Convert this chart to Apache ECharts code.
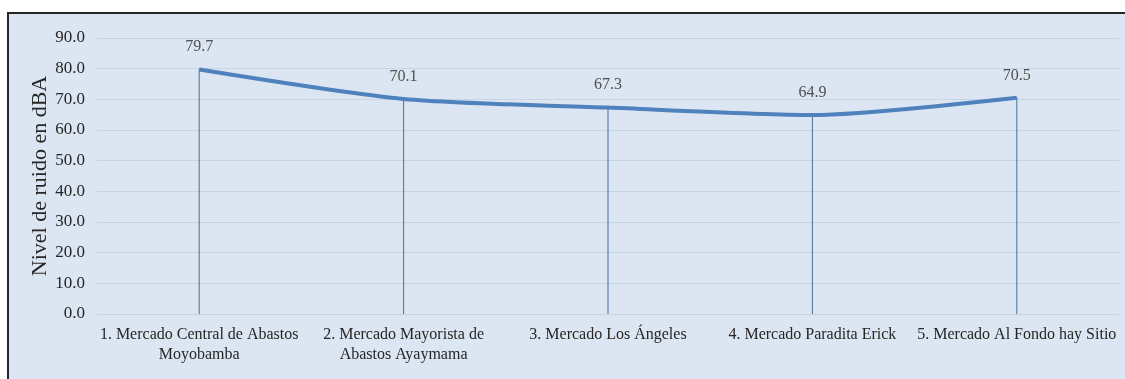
<!DOCTYPE html>
<html>
<head>
<meta charset="utf-8">
<script src="https://cdn.jsdelivr.net/npm/echarts@6/dist/echarts.min.js"></script>
<style>
	html, body { margin: 0; padding: 0; background: #fff; overflow: hidden; width: 1125px; height: 379px; }
	#frame { position: absolute; left: 7px; top: 12px; width: 1130px; height: 380px; border: 2px solid #262626; background: #dce6f2; }
	#main { width: 1116px; height: 365px; }
</style>
</head>
<body>
<div id="frame"><div id="main"></div></div>
<script>
const mercados = [
	"1. Mercado Central de Abastos\nMoyobamba",
	"2. Mercado Mayorista de\nAbastos Ayaymama",
	"3. Mercado Los Ángeles",
	"4. Mercado Paradita Erick",
	"5. Mercado Al Fondo hay Sitio"
]
const ruido = [79.7, 70.1, 67.3, 64.9, 70.5]
const ejeY = { min: 0, max: 90, interval: 10 }

const serif = "'Liberation Serif', 'Times New Roman', serif"

var myChart = echarts.init(document.getElementById('main'))
var option = {
	backgroundColor: 'transparent',
	animation: false,
	grid: {
		left: 88,
		top: 24,
		width: 1022,
		height: 276
	},
	xAxis: {
		type: 'category',
		data: mercados,
		boundaryGap: true,
		axisLine: { show: false },
		axisTick: { show: false },
		axisLabel: {
			interval: 0,
			color: '#262626',
			fontFamily: serif,
			fontSize: 16,
			lineHeight: 20,
			margin: 11
		}
	},
	yAxis: {
		type: 'value',
		min: ejeY.min,
		max: ejeY.max,
		interval: ejeY.interval,
		name: 'Nivel de ruido en dBA',
		nameLocation: 'middle',
		nameGap: 46,
		nameMoveOverlap: false,
		nameTextStyle: { color: '#262626', fontFamily: serif, fontSize: 22 },
		axisLine: { show: false },
		axisTick: { show: false },
		splitLine: { lineStyle: { color: '#c9d4e2', width: 1 } },
		axisLabel: {
			color: '#262626',
			fontFamily: serif,
			fontSize: 17,
			margin: 12,
			formatter: (v) => v.toFixed(1)
		}
	},
	series: [
		{
			// líneas de caída
			type: 'bar',
			data: ruido,
			barWidth: 1,
			itemStyle: { color: '#4a6d96' },
			silent: true
		},
		{
			type: 'line',
			data: ruido,
			smooth: 0.25,
			symbol: 'circle',
			symbolSize: 1,
			itemStyle: { color: '#4f81bd' },
			lineStyle: { color: '#4f81bd', width: 4 },
			label: {
				show: true,
				position: 'top',
				distance: 14,
				color: '#505050',
				fontFamily: serif,
				fontSize: 16,
				formatter: (p) => p.value.toFixed(1)
			},
			z: 3
		}
	]
}
myChart.setOption(option)
</script>
</body>
</html>
